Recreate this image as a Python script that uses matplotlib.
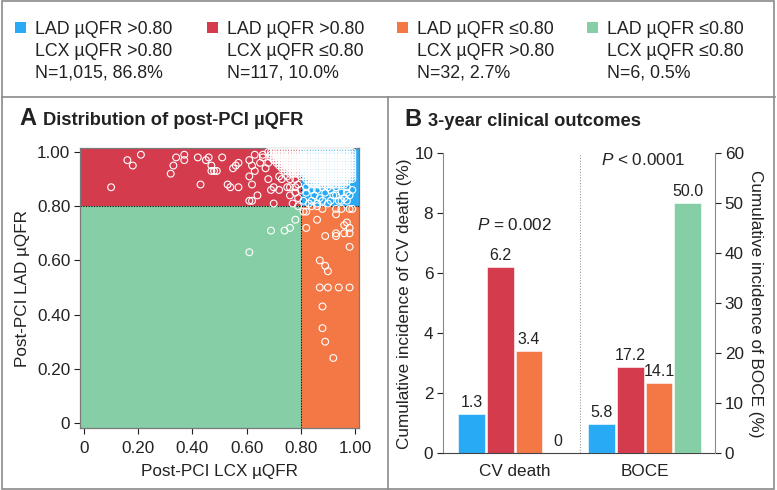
import matplotlib
matplotlib.use("Agg")
import matplotlib.pyplot as plt
from matplotlib.patches import Rectangle
from matplotlib.lines import Line2D
import numpy as np

plt.rcParams["font.family"] = ["Liberation Sans", "DejaVu Sans"]
plt.rcParams["mathtext.fontset"] = "custom"
plt.rcParams["mathtext.rm"] = "Liberation Sans"
plt.rcParams["mathtext.it"] = "Liberation Sans:italic"

W, H = 777, 490
TXT = "#222222"
FRAME = "#8a8a8a"

# group colours: LAD>0.8/LCX>0.8, LAD>0.8/LCX<=0.8, LAD<=0.8/LCX>0.8, LAD<=0.8/LCX<=0.8
COLORS = ["#29AAF5", "#D43C4E", "#F47846", "#86CEA5"]
GROUP_LINES = [
    ["LAD µQFR >0.80", "LCX µQFR >0.80", "N=1,015, 86.8%"],
    ["LAD µQFR >0.80", "LCX µQFR ≤0.80", "N=117, 10.0%"],
    ["LAD µQFR ≤0.80", "LCX µQFR >0.80", "N=32, 2.7%"],
    ["LAD µQFR ≤0.80", "LCX µQFR ≤0.80", "N=6, 0.5%"],
]

# ---- panel A: post-PCI uQFR (LCX on x, LAD on y) ----
# dense areas: (LAD value, LCX from, LCX to) in hundredths, every 0.01 cell filled
BLUE_ROWS = [(100, 80, 99), (99, 80, 99), (98, 80, 99), (97, 80, 99),
             (96, 80, 99), (95, 80, 99), (94, 80, 99), (93, 80, 99),
             (92, 81, 99), (91, 81, 99), (90, 82, 98), (89, 83, 97),
             (88, 84, 96)]
RED_ROWS = [(100, 68, 80), (99, 69, 80), (98, 69, 80), (97, 70, 80),
            (96, 71, 80), (95, 72, 80), (94, 73, 80), (93, 74, 79),
            (92, 76, 79)]
BLUE_X = [0.82, 0.82, 0.84, 0.85, 0.86, 0.87, 0.89, 0.91, 0.92, 0.94, 0.95,
          0.96, 0.98, 0.99, 0.97, 0.90, 0.93, 0.81, 0.83, 0.88, 0.90, 0.93,
          0.95, 0.97, 0.99, 0.86, 0.91, 0.84, 0.88, 0.97]
BLUE_Y = [0.87, 0.85, 0.82, 0.84, 0.86, 0.83, 0.85, 0.82, 0.84, 0.82, 0.85,
          0.83, 0.84, 0.90, 0.87, 0.87, 0.87, 0.82, 0.81, 0.82, 0.81, 0.84,
          0.82, 0.82, 0.86, 0.81, 0.86, 0.86, 0.87, 0.85]
RED_X = [0.10, 0.16, 0.18, 0.21, 0.32, 0.33, 0.34, 0.37, 0.37, 0.42, 0.43,
         0.45, 0.46, 0.47, 0.47, 0.48, 0.49, 0.51, 0.53, 0.54, 0.55, 0.56,
         0.57, 0.57, 0.61, 0.61, 0.62, 0.62, 0.63, 0.63, 0.61, 0.62, 0.64,
         0.66, 0.66, 0.67, 0.68, 0.69, 0.70, 0.72, 0.70, 0.72, 0.75, 0.75,
         0.76, 0.78, 0.76, 0.78, 0.76, 0.77, 0.78, 0.79, 0.65, 0.68, 0.73,
         0.79, 0.80, 0.80]
RED_Y = [0.87, 0.97, 0.95, 0.99, 0.92, 0.95, 0.98, 0.99, 0.97, 0.98, 0.88,
         0.97, 0.98, 0.95, 0.93, 0.93, 0.93, 0.98, 0.88, 0.87, 0.94, 0.95,
         0.96, 0.87, 0.97, 0.91, 0.95, 0.88, 0.93, 0.99, 0.82, 0.82, 0.84,
         0.99, 0.98, 0.94, 0.90, 0.86, 0.87, 0.86, 0.81, 0.91, 0.91, 0.87,
         0.87, 0.87, 0.90, 0.90, 0.84, 0.81, 0.85, 0.88, 0.96, 0.96, 0.90,
         0.83, 0.86, 0.91]
ORANGE_X = [0.81, 0.82, 0.82, 0.86, 0.86, 0.88, 0.89, 0.93, 0.95, 0.98, 0.93,
            0.93, 0.93, 0.96, 0.97, 0.98, 0.96, 0.98, 0.98, 0.87, 0.89, 0.90,
            0.87, 0.90, 0.94, 0.98, 0.88, 0.88, 0.89, 0.92, 0.99, 0.84]
ORANGE_Y = [0.78, 0.78, 0.72, 0.75, 0.80, 0.79, 0.69, 0.79, 0.79, 0.79, 0.77,
            0.70, 0.69, 0.73, 0.74, 0.72, 0.70, 0.70, 0.65, 0.60, 0.58, 0.56,
            0.50, 0.50, 0.50, 0.50, 0.43, 0.35, 0.30, 0.24, 0.79, 0.80]
GREEN_X = [0.61, 0.69, 0.74, 0.76, 0.78, 0.79]
GREEN_Y = [0.63, 0.71, 0.71, 0.72, 0.75, 0.80]
CUT = 0.80
A_TICKS = [0, 0.2, 0.4, 0.6, 0.8, 1.0]
A_TICKLABELS = ["0", "0.20", "0.40", "0.60", "0.80", "1.00"]

# ---- panel B: 3-year outcomes (%) ----
OUTCOMES = ["CV death", "BOCE"]
CV_DEATH = [1.3, 6.2, 3.4, 0.0]
BOCE = [5.8, 17.2, 14.1, 50.0]
CV_LABELS = ["1.3", "6.2", "3.4", "0"]
BOCE_LABELS = ["5.8", "17.2", "14.1", "50.0"]
P_VALUES = ["$P$ = 0.002", "$P$ < 0.0001"]

FS = 12.3  # most text in the figure


def px_axes(fig, left, top, right, bottom):
    return fig.add_axes([left / W, 1 - bottom / H, (right - left) / W, (bottom - top) / H])


def fx(x):
    return x / W


def fy(y):
    return 1 - y / H


def expand(rows):
    xs, ys = [], []
    for yv, x0, x1 in rows:
        for xv in range(x0, x1 + 1):
            xs.append(xv / 100)
            ys.append(yv / 100)
    return xs, ys


fig = plt.figure(figsize=(W / 100, H / 100), dpi=100)

# frame and dividers
fig.add_artist(Rectangle((fx(1.5), fy(488.5)), fx(773.5 - 1.5), (487 / H),
                         transform=fig.transFigure, fill=False, ec=FRAME, lw=1.2))
fig.add_artist(Line2D([fx(1.5), fx(775)], [fy(97), fy(97)],
                      transform=fig.transFigure, color=FRAME, lw=1.2))
fig.add_artist(Line2D([fx(388), fx(388)], [fy(97), fy(488.5)],
                      transform=fig.transFigure, color=FRAME, lw=1.2))

# header legend
for i, (col, lines) in enumerate(zip(COLORS, GROUP_LINES)):
    sx = [15, 207, 397, 587][i]
    fig.add_artist(Rectangle((fx(sx), fy(33)), 11 / W, 11 / H,
                             transform=fig.transFigure, fc=col, ec="none"))
    for j, line in enumerate(lines):
        fig.text(fx(sx + 20), fy(33.5 + 22 * j), line, fontsize=12.8,
                 color=TXT, va="baseline", ha="left")

# ---------------- panel A ----------------
axA = px_axes(fig, 80, 148, 359, 428)
xlo, xhi = -4 / 271, 1 + 4 / 271
ylo, yhi = -5 / 271, 1 + 4 / 271
axA.set_xlim(xlo, xhi)
axA.set_ylim(ylo, yhi)
axA.add_patch(Rectangle((xlo, ylo), CUT - xlo, CUT - ylo, fc=COLORS[3], ec="none", zorder=1))
axA.add_patch(Rectangle((xlo, CUT), CUT - xlo, yhi - CUT, fc=COLORS[1], ec="none", zorder=1))
axA.add_patch(Rectangle((CUT, ylo), xhi - CUT, CUT - ylo, fc=COLORS[2], ec="none", zorder=1))
axA.add_patch(Rectangle((CUT, CUT), xhi - CUT, yhi - CUT, fc=COLORS[0], ec="none", zorder=1))
axA.plot([CUT, CUT], [ylo, yhi], color="#111111", lw=0.8, ls=(0, (1.2, 1.2)), zorder=2)
axA.plot([xlo, xhi], [CUT, CUT], color="#111111", lw=0.8, ls=(0, (1.2, 1.2)), zorder=2)

bx, by = expand(BLUE_ROWS)
rx, ry = expand(RED_ROWS)
pts_x = RED_X + rx + GREEN_X + ORANGE_X + BLUE_X + bx
pts_y = RED_Y + ry + GREEN_Y + ORANGE_Y + BLUE_Y + by
axA.scatter(pts_x, pts_y, s=24, facecolors="none", edgecolors="white",
            linewidths=0.8, zorder=3, clip_on=False)

axA.set_xticks(A_TICKS)
axA.set_xticklabels(A_TICKLABELS)
axA.set_yticks(A_TICKS)
axA.set_yticklabels(A_TICKLABELS)
axA.tick_params(labelsize=FS, colors=TXT, length=4, width=0.8, pad=3)
axA.tick_params(axis="x", pad=5)
for sp in axA.spines.values():
    sp.set_color("#7a7a7a")
    sp.set_linewidth(0.9)
axA.set_xlabel("Post-PCI LCX µQFR", fontsize=FS, color=TXT, labelpad=6)
axA.set_ylabel("Post-PCI LAD µQFR", fontsize=FS, color=TXT, labelpad=5)

fig.text(fx(19), fy(125), "A", fontsize=17, fontweight="bold", color=TXT, va="baseline")
fig.text(fx(43), fy(125), "Distribution of post-PCI µQFR", fontsize=13.2,
         fontweight="bold", color=TXT, va="baseline")

# ---------------- panel B ----------------
axB = px_axes(fig, 443, 153.3, 715, 453.3)
step, width = 0.22, 0.205
offsets = (np.arange(4) - 1.5) * step
axB.set_xlim(-0.55, 1.54)
axB.set_ylim(0, 10)
axB2 = axB.twinx()
axB2.set_ylim(0, 60)

for k in range(4):
    axB.bar(0 + offsets[k], CV_DEATH[k], width=width, color=COLORS[k],
            edgecolor="white", linewidth=0.4, zorder=2)
    axB.annotate(CV_LABELS[k], (0 + offsets[k], CV_DEATH[k]), xytext=(0, 3),
                 textcoords="offset points", ha="center", va="bottom",
                 fontsize=11.5, color=TXT)
    axB2.bar(1 + offsets[k], BOCE[k], width=width, color=COLORS[k],
             edgecolor="white", linewidth=0.4, zorder=2)
    axB2.annotate(BOCE_LABELS[k], (1 + offsets[k], BOCE[k]), xytext=(0, 3),
                  textcoords="offset points", ha="center", va="bottom",
                  fontsize=11.5, color=TXT)

axB.plot([0.5, 0.5], [0, 10], color="#999999", lw=0.8, ls=(0, (1, 1.5)), zorder=1)
axB.text(0, 7.6, P_VALUES[0], ha="center", va="center", fontsize=FS, color=TXT)
axB.text(0.99, 9.78, P_VALUES[1], ha="center", va="center", fontsize=FS, color=TXT)

axB.set_xticks([0, 1])
axB.set_xticklabels(OUTCOMES)
axB.tick_params(axis="x", length=0, pad=8, labelsize=FS, colors=TXT)
axB.set_yticks([0, 2, 4, 6, 8, 10])
axB.tick_params(axis="y", labelsize=FS, colors=TXT, length=4, width=0.8, pad=3)
axB2.set_yticks([0, 10, 20, 30, 40, 50, 60])
axB2.tick_params(axis="y", labelsize=FS, colors=TXT, length=4, width=0.8, pad=3)
for a in (axB, axB2):
    a.spines["top"].set_visible(False)
    a.spines["left"].set_color("#8a8a8a")
    a.spines["right"].set_color("#8a8a8a")
    a.spines["bottom"].set_color("#444444")
axB2.spines["left"].set_visible(False)
axB2.spines["bottom"].set_visible(False)
axB.spines["right"].set_visible(False)
axB.set_ylabel("Cumulative incidence of CV death (%)", fontsize=FS, color=TXT, labelpad=2)
axB2.set_ylabel("Cumulative incidence of BOCE (%)", fontsize=FS, color=TXT,
                rotation=270, labelpad=14)

fig.text(fx(404), fy(126), "B", fontsize=17, fontweight="bold", color=TXT, va="baseline")
fig.text(fx(428), fy(126), "3-year clinical outcomes", fontsize=13.2,
         fontweight="bold", color=TXT, va="baseline")

fig.savefig("out.png", dpi=100)
